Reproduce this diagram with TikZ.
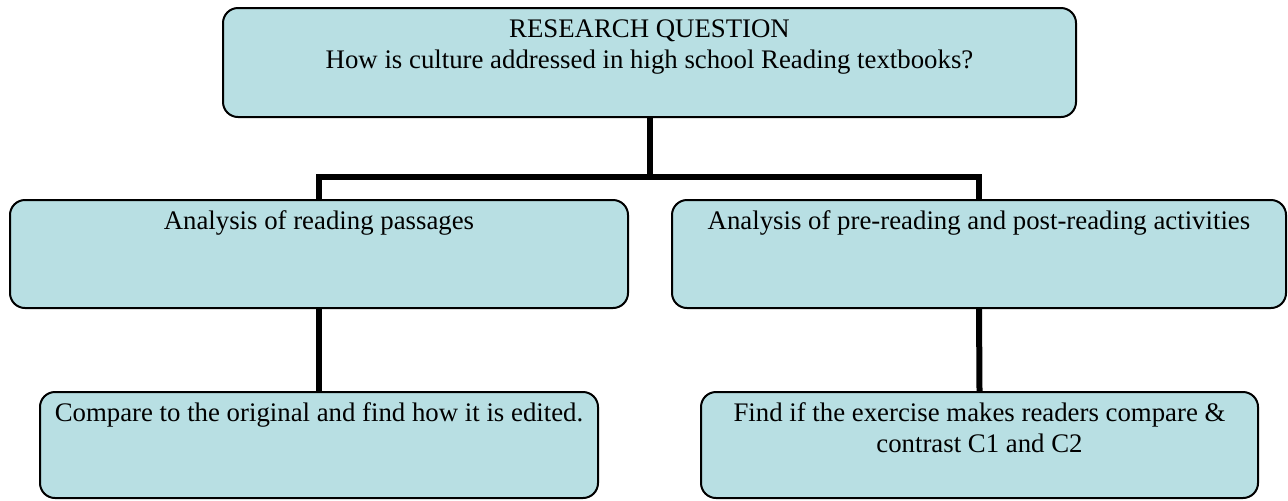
\documentclass[tikz,border=0pt]{standalone}
\usepackage{fontspec}
\setmainfont{Liberation Serif}
\definecolor{boxfill}{RGB}{184,223,227}
\newlength{\px}\setlength{\px}{0.5pt}
\newcommand{\boxtext}[3]{\parbox[c][#2\px][t]{#1\px}{\centering\rule{0pt}{14.8pt}#3}}
\tikzset{
  qbox/.style={draw, line width=1pt, rounded corners=7.5pt, fill=boxfill, inner sep=0pt, font=\fontsize{13.4}{15.6}\selectfont},
  link/.style={line width=3pt}
}
\begin{document}
\begin{tikzpicture}[x=0.5pt,y=-0.5pt]
\useasboundingbox (0,0) rectangle (1288,500);
%\draw[step=50,gray,very thin] (0,0) grid (1288,500); %background grid
\node[qbox] (rq) at (649.5,62.5) {\boxtext{853}{109}{RESEARCH QUESTION\\How is culture addressed in high school Reading textbooks?}};
\node[qbox] (passages) at (319,254) {\boxtext{618}{108}{Analysis of reading passages}};
\node[qbox] (activities) at (979,254) {\boxtext{614}{108}{Analysis of pre-reading and post-reading activities}};
\node[qbox] (compare) at (319,445) {\boxtext{558}{106}{Compare to the original and find how it is edited.}};
\node[qbox] (exercise) at (979.5,445) {\boxtext{557}{106}{Find if the exercise makes readers compare \&\\contrast C1 and C2}};
\coordinate (split) at (649.5,177);
\draw[link] (rq.south) -- (split) -| (passages.north);
\draw[link] (split) -| (activities.north);
\draw[link] (passages.south) -- (compare.north);
\draw[link] (activities.south) -- (exercise.north);
\end{tikzpicture}
\end{document}
